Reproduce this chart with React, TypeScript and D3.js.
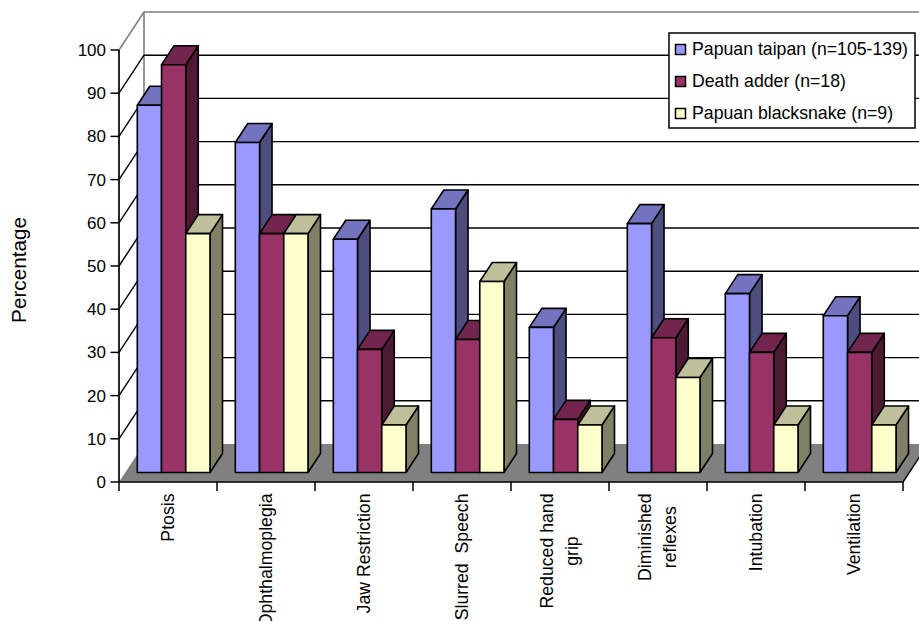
import React from "react";
import * as d3 from "d3";

const categories = [
  ["Ptosis"],
  ["Ophthalmoplegia"],
  ["Jaw Restriction"],
  ["Slurred  Speech"],
  ["Reduced hand", "grip"],
  ["Diminished", "reflexes"],
  ["Intubation"],
  ["Ventilation"],
];
const seriesNames = ["Papuan taipan (n=105-139)", "Death adder (n=18)", "Papuan blacksnake (n=9)"];
const taipan = [85, 76.4, 54, 61, 33.6, 57.6, 41.4, 36.3];
const deathAdder = [94.4, 55.3, 28.5, 30.8, 12.3, 31.2, 27.8, 27.8];
const blacksnake = [55.3, 55.3, 11, 44.2, 11, 22, 11, 11];
const yTicks = d3.range(0, 101, 10);
const frontColors = ["#9999FF", "#993366", "#FFFFCC"];
const topColors = ["#7373BF", "#73264D", "#BFBF99"];
const sideColors = ["#4D4D80", "#4D1A33", "#808066"];

const FONT = "'Liberation Sans', Arial, sans-serif";
const LABEL = 17.7;
const left = 119, right = 903, y0 = 482, y100 = 50;
const depthX = 25, depthY = -38;
const series = [taipan, deathAdder, blacksnake];

const xScale = d3.scaleBand<number>().domain(d3.range(categories.length)).range([left, right]);
const yScale = d3.scaleLinear().domain([0, 100]).range([y0, y100]);
const barScale = d3.scaleBand<number>().domain([0, 1, 2]).range([18.3, 91]);

function measure(t: string, size: number) {
  const c = document.createElement("canvas").getContext("2d")!;
  c.font = `${size}px 'Liberation Sans'`;
  return c.measureText(t).width;
}
const pts = (p: number[][]) => p.map((q) => q.join(",")).join(" ");

function Bar({ x, w, v, s }: { x: number; w: number; v: number; s: number }) {
  const base = depthY / 4;
  const bot = y0 + base;
  const top = yScale(v) + base;
  const dx = depthX / 2;
  const dy = depthY / 2;
  const st = { stroke: "#000", strokeWidth: 1.6, strokeLinejoin: "round" as const };
  return (
    <g>
      <polygon points={pts([[x + w, bot], [x + w + dx, bot + dy], [x + w + dx, top + dy], [x + w, top]])} fill={sideColors[s]} {...st} />
      <polygon points={pts([[x, top], [x + dx, top + dy], [x + w + dx, top + dy], [x + w, top]])} fill={topColors[s]} {...st} />
      <rect x={x} y={top} width={w} height={bot - top} fill={frontColors[s]} {...st} />
    </g>
  );
}

export default function App() {
  const backY = (v: number) => yScale(v) + depthY;
  return (
    <svg width={919} height={621} style={{ position: "absolute", left: 0, top: 0, background: "#fff" }} fontFamily={FONT}>
      <line x1={left + depthX} y1={backY(100)} x2={left + depthX} y2={backY(0)} stroke="#808080" strokeWidth={1.6} />
      <line x1={left + depthX} y1={backY(100)} x2={919} y2={backY(100)} stroke="#808080" strokeWidth={1.6} />
      <line x1={left} y1={y100} x2={left + depthX} y2={backY(100)} stroke="#808080" strokeWidth={1.6} />
      <polygon points={pts([[left, y0], [right, y0], [right + depthX, backY(0)], [left + depthX, backY(0)]])} fill="#808080" />
      {yTicks.filter((v) => v > 0 && v < 100).map((v) => (
        <g key={v}>
          <line x1={left + depthX} x2={919} y1={backY(v)} y2={backY(v)} stroke="#000" strokeWidth={1.4} />
          <line x1={left} x2={left + depthX} y1={yScale(v)} y2={backY(v)} stroke="#000" strokeWidth={1.4} />
        </g>
      ))}
      <line x1={right} y1={y0} x2={right + depthX} y2={backY(0)} stroke="#000" strokeWidth={1.4} />
      {categories.map((_, i) =>
        series.map((vals, s) => (
          <Bar key={`${i}-${s}`} x={xScale(i)! + barScale(s)!} w={barScale.bandwidth()} v={vals[i]} s={s} />
        ))
      )}
      <line x1={left} x2={left} y1={y100} y2={y0} stroke="#000" strokeWidth={1.7} />
      <line x1={left} x2={right} y1={y0} y2={y0} stroke="#000" strokeWidth={1.7} />
      {yTicks.map((v) => (
        <g key={v}>
          <line x1={110.5} x2={left} y1={yScale(v)} y2={yScale(v)} stroke="#000" strokeWidth={1.5} />
          <text x={106} y={yScale(v) + 6} textAnchor="end" fontSize={LABEL - 0.7}>{v}</text>
        </g>
      ))}
      {d3.range(categories.length + 1).map((i) => {
        const x = left + i * xScale.step();
        return <line key={i} x1={x} x2={x} y1={y0} y2={491} stroke="#000" strokeWidth={1.5} />;
      })}
      {categories.map((lines, i) => {
        const len = Math.max(...lines.map((l) => measure(l, LABEL)));
        const cx = xScale(i)! + xScale.bandwidth() / 2 + 5.5;
        const cy = 493.5 + len / 2;
        return lines.map((l, k) => {
          const x = cx + (k - (lines.length - 1) / 2) * 25;
          return (
            <text key={k} transform={`translate(${x},${cy}) rotate(-90)`} textAnchor="middle" fontSize={LABEL} style={{ whiteSpace: "pre" }}>{l}</text>
          );
        });
      })}
      <text transform="translate(26,270) rotate(-90)" textAnchor="middle" fontSize={20.7}>Percentage</text>
      <rect x={669} y={33} width={246} height={95} fill="#fff" stroke="#000" strokeWidth={1.5} />
      {seriesNames.map((n, i) => (
        <g key={n}>
          <rect x={675.5} y={44.5 + i * 32} width={10} height={10} fill={frontColors[i]} stroke="#000" strokeWidth={1.5} />
          <text x={692} y={55 + i * 32} fontSize={LABEL}>{n}</text>
        </g>
      ))}
    </svg>
  );
}
